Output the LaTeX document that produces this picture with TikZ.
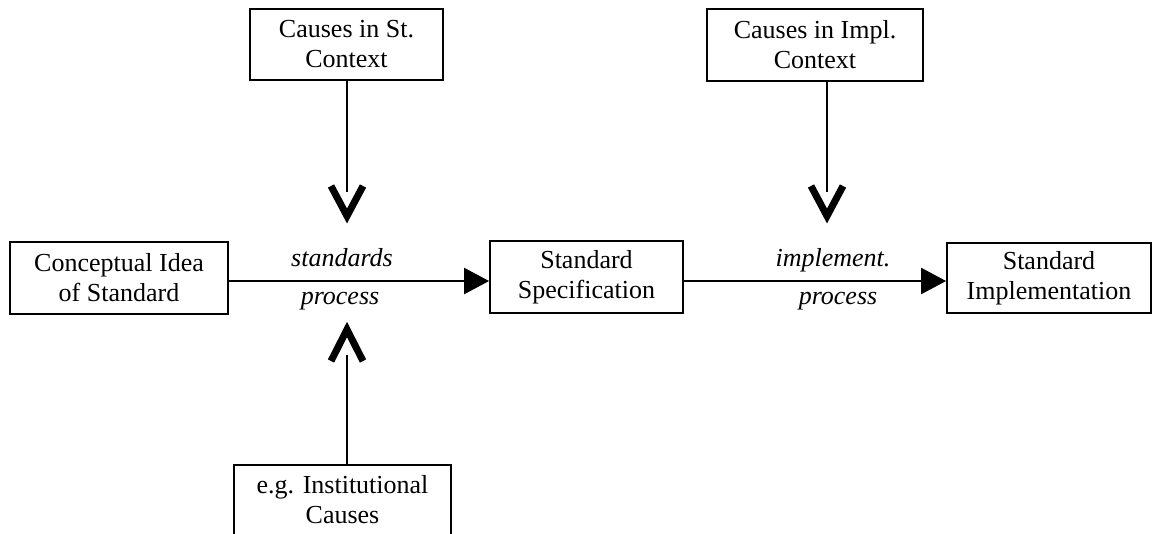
\documentclass[tikz,border=0pt]{standalone}
\usepackage{fontspec}
\setmainfont{Liberation Serif}
\usetikzlibrary{arrows.meta,calc}
\begin{document}
\begin{tikzpicture}[x=1pt,y=-1pt,
  box/.style={draw,line width=1.8pt,align=center,font=\fontsize{26}{30}\selectfont,inner sep=0pt},
  conn/.style={line width=2.6pt},
  mainarrow/.style={line width=2.4pt,-{Triangle[length=25pt,width=26pt]}},
  chev/.style={line width=7pt,miter limit=10},
  lbl/.style={font=\fontsize{26}{30}\selectfont\itshape,anchor=base}]
\clip (0,0) rectangle (1155,533);
\useasboundingbox (0,0) rectangle (1155,533);
\node[box,minimum width=218pt,minimum height=72pt] (concept) at (119,278) {Conceptual Idea\\of Standard};
\node[box,minimum width=193pt,minimum height=72pt] (spec) at (586.5,277) {Standard\\Specification};
\node[box,minimum width=204pt,minimum height=70pt] (impl) at (1049,278) {Standard\\Implementation};
\node[box,minimum width=193pt,minimum height=71pt] (cst) at (346.5,44.5) {Causes in St.\\Context};
\node[box,minimum width=216pt,minimum height=72pt] (cim) at (815,45) {Causes in Impl.\\Context};
\node[box,minimum width=217pt,minimum height=70pt] (inst) at (342.5,500) {e.g. Institutional\\Causes};
\coordinate (a1) at (347,192);
\coordinate (a2) at (827,192);
\coordinate (a3) at (347,355);
\coordinate (ly) at (0,281);
\draw[mainarrow] (concept.east |- ly) -- (spec.west |- ly);
\draw[mainarrow] (spec.east |- ly) -- (impl.west |- ly);
\draw[conn] (cst.south -| a1) -- (a1);
\draw[conn] (cim.south -| a2) -- (a2);
\draw[conn] (inst.north -| a3) -- (a3);
\draw[chev] ($(a1)+(-16,-6)$) -- ($(a1)+(0,24)$) -- ($(a1)+(16,-6)$);
\draw[chev] ($(a2)+(-16,-6)$) -- ($(a2)+(0,24)$) -- ($(a2)+(16,-6)$);
\draw[chev] ($(a3)+(-16,6)$) -- ($(a3)+(0,-25.5)$) -- ($(a3)+(16,6)$);
\node[lbl] (l1) at (342,266) {standards};
\node[lbl] (l2) at (340,304) {process};
\node[lbl] (l3) at (833,266) {implement.};
\node[lbl] (l4) at (838,304) {process};
\end{tikzpicture}
\end{document}
